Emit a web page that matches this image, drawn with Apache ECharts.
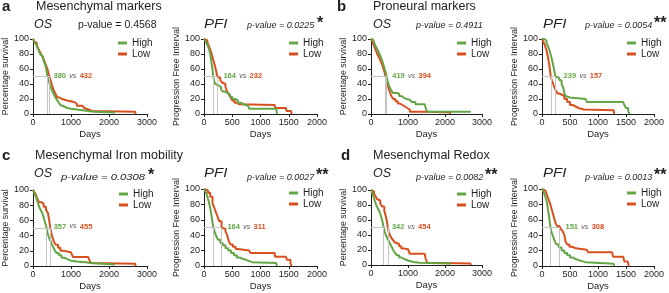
<!DOCTYPE html>
<html>
<head>
<meta charset="utf-8">
<script src="https://cdn.jsdelivr.net/npm/echarts@6/dist/echarts.min.js"></script>
<style>
  html, body { margin: 0; background: #fff; }
  #chart { width: 669px; height: 293px; }
</style>
</head>
<body>
<div id="chart"></div>
<script>
// panel order: a-OS, a-PFI, b-OS, b-PFI, c-OS, c-PFI, d-OS, d-PFI
const groupLetters = ["a", "b", "c", "d"];
const groupTitles = ["Mesenchymal markers", "Proneural markers", "Mesenchymal Iron mobility", "Mesenchymal Redox"];
const endpoints = ["OS", "PFI", "OS", "PFI", "OS", "PFI", "OS", "PFI"];
const xMaxes = [3000, 2000, 3000, 2000, 3000, 2000, 3000, 2000];
const xSteps = [1000, 500, 1000, 500, 1000, 500, 1000, 500];
const yTicks = [0, 20, 40, 60, 80, 100];
const pValues = ["0.4568", "0.0225", "0.4911", "0.0054", "0.0308", "0.0027", "0.0082", "0.0013"];
const stars = ["", "*", "", "**", "*", "**", "**", "**"];
const medianHigh = [380, 164, 419, 239, 357, 164, 342, 151];
const medianLow = [432, 232, 394, 157, 455, 311, 454, 308];

// [days, percent] Kaplan-Meier steps
const highCurves = [
  [[0,100],[20,98],[40,96],[60,94],[90,92],[110,89],[140,86],[170,82],[200,79],[230,77],[260,74],[280,71],[300,69],[320,66],[340,62],[360,56],[380,50],[400,46],[420,43],[450,38],[480,34],[510,30],[540,27],[570,24],[600,21],[640,18],[680,15],[720,12],[760,10],[820,8],[900,7],[1000,6],[1150,5],[1300,4],[1450,3],[1600,2],[2160,2]],
  [[0,100],[30,97],[60,92],[90,86],[110,80],[130,70],[150,60],[164,50],[180,44],[200,40],[230,38],[260,36],[300,33],[330,30],[370,28],[420,26],[460,23],[500,20],[550,18],[600,15],[650,13],[700,11],[780,9],[800,7],[1280,7],[1290,0]],
  [[0,100],[30,99],[60,97],[90,94],[130,90],[170,86],[210,82],[250,78],[290,73],[330,67],[370,60],[400,55],[419,50],[450,44],[480,39],[510,35],[550,31],[600,28],[700,27],[760,24],[820,22],[880,20],[950,19],[1050,18],[1100,16],[1200,13],[1450,12],[1480,8],[1520,3],[2700,3]],
  [[0,100],[40,98],[80,95],[110,90],[140,83],[170,75],[200,65],[220,58],[239,50],[270,48],[310,45],[350,40],[380,35],[400,28],[420,24],[450,22],[500,20],[780,20],[800,16],[1450,16],[1470,12],[1500,8],[1540,4],[1560,0]],
  [[0,100],[30,97],[60,93],[100,88],[130,83],[160,78],[200,74],[240,70],[280,64],[320,57],[357,50],[380,44],[410,39],[440,35],[470,32],[500,28],[540,24],[580,20],[620,17],[680,14],[750,11],[820,9],[900,7],[1000,6],[1150,5],[1400,4],[1500,2],[2150,2]],
  [[0,100],[30,96],[60,90],[90,82],[120,72],[140,62],[164,50],[190,44],[220,38],[250,34],[290,30],[330,27],[380,23],[430,20],[480,17],[530,14],[580,11],[630,9],[700,7],[780,5],[850,4],[1280,4],[1290,0]],
  [[0,100],[30,97],[60,92],[100,86],[140,80],[180,76],[220,72],[260,67],[300,60],[342,50],[370,45],[400,40],[440,36],[480,32],[520,28],[560,24],[600,20],[650,16],[700,13],[760,10],[830,8],[900,6],[1000,4],[1150,3],[1300,2],[2150,2]],
  [[0,100],[30,96],[60,90],[90,82],[110,72],[130,62],[151,50],[170,44],[200,38],[230,32],[260,28],[300,24],[350,20],[400,17],[450,14],[500,11],[550,9],[600,7],[680,5],[780,3],[1280,3],[1290,0]]
];
const lowCurves = [
  [[0,100],[30,97],[60,95],[100,92],[130,88],[170,84],[210,80],[250,76],[290,72],[320,68],[350,64],[380,60],[410,54],[432,50],[460,45],[490,40],[520,35],[560,30],[600,26],[640,22],[700,20],[760,18],[900,17],[1000,16],[1080,14],[1150,11],[1300,10],[1350,8],[1400,6],[1460,4],[1550,3],[2690,3],[2700,0]],
  [[0,100],[30,98],[60,95],[90,90],[120,84],[150,76],[180,68],[200,62],[220,56],[232,50],[260,48],[290,45],[320,42],[350,40],[380,36],[410,30],[440,26],[470,22],[500,18],[540,15],[580,13],[620,12],[1250,12],[1260,8],[1450,8],[1460,4],[1540,4],[1550,0]],
  [[0,100],[40,96],[80,91],[120,86],[160,81],[200,77],[240,73],[280,68],[320,63],[360,57],[394,50],[420,45],[450,39],[480,33],[520,28],[560,23],[600,20],[660,17],[720,14],[780,12],[850,10],[920,8],[980,6],[1050,3],[1500,3],[1550,2],[2140,2],[2150,0]],
  [[0,100],[20,97],[50,92],[80,85],[100,78],[120,70],[140,60],[157,50],[180,44],[210,38],[240,32],[270,28],[300,26],[350,24],[400,20],[450,16],[500,12],[550,10],[600,8],[650,6],[750,5],[1280,5],[1290,0]],
  [[0,100],[40,97],[80,93],[120,88],[160,84],[220,82],[280,78],[340,74],[390,70],[420,62],[440,55],[455,50],[480,44],[510,38],[550,32],[600,28],[660,24],[720,20],[800,18],[1000,17],[1050,12],[1450,12],[1480,8],[1520,4],[1550,3],[2690,3],[2700,0]],
  [[0,100],[30,98],[70,95],[110,90],[150,82],[180,76],[210,70],[240,64],[270,58],[311,50],[340,48],[380,45],[410,40],[440,32],[470,28],[510,25],[560,22],[600,20],[800,20],[820,17],[1250,17],[1260,12],[1450,12],[1470,8],[1530,4],[1550,0]],
  [[0,100],[40,98],[80,95],[120,92],[160,88],[200,86],[250,82],[300,78],[360,72],[400,65],[430,58],[454,50],[480,44],[510,40],[550,36],[600,33],[650,30],[700,28],[760,25],[820,22],[900,21],[1000,20],[1050,15],[1450,15],[1480,8],[1520,3],[1560,2],[2690,2],[2700,0]],
  [[0,100],[30,98],[60,96],[90,92],[120,86],[150,80],[180,72],[210,64],[240,56],[270,52],[308,50],[340,48],[370,45],[400,40],[420,32],[450,28],[490,25],[540,23],[600,21],[800,21],[820,18],[1250,18],[1270,12],[1450,12],[1470,6],[1530,4],[1550,0]]
];
// where the "median vs median" note starts (days, percent)
const noteAt = [[540,51],[343,51],[575,51],[385,51],[543,52],[414,51],[566,51],[420,51]];

// ---- layout ----
const GREEN = "#64a646";
const RED = "#d8501e";
const INK = "#1e1e1e";
const FONT = "Arial, 'Liberation Sans', Helvetica, sans-serif";

const grids = [
  { left: 33, top: 39, width: 114, height: 75 },
  { left: 204, top: 39, width: 113, height: 75 },
  { left: 371, top: 39, width: 111, height: 75 },
  { left: 542, top: 39, width: 112, height: 75 },
  { left: 33, top: 190, width: 114, height: 76 },
  { left: 204, top: 189, width: 113, height: 77 },
  { left: 371, top: 190, width: 111, height: 75 },
  { left: 542, top: 189, width: 112, height: 77 }
];
const groupX = [[2, 36], [337, 373], [2, 35], [341, 373]];
const groupY = [7, 7, 156, 156];
const subX = [34, 204, 373, 543, 34, 204, 373, 543];
const pX = [78, 247, 416, 585, 61, 247, 416, 585];
const starX = [0, 317, 0, 654, 148, 316, 485, 654];
const legendX = [118, 289, 457, 627, 119, 289, 457, 627];

const chart = echarts.init(document.getElementById("chart"), null, { renderer: "canvas" });

const option = {
  animation: false,
  backgroundColor: "#fff",
  textStyle: { fontFamily: FONT, color: INK },
  grid: [],
  xAxis: [],
  yAxis: [],
  legend: [],
  series: [],
  graphic: []
};

grids.forEach((g, i) => {
  const row = i < 4 ? 0 : 1;
  option.grid.push({ ...g, outerBoundsMode: "none", containLabel: false });
  option.xAxis.push({
    type: "value", gridIndex: i, min: 0, max: xMaxes[i], interval: xSteps[i],
    name: "Days", nameLocation: "middle", nameGap: 15,
    nameTextStyle: { fontSize: 9.5, color: INK, fontFamily: FONT },
    axisLine: { show: true, onZero: false, lineStyle: { color: INK, width: 1 } },
    axisTick: { show: true, length: 3, lineStyle: { color: INK } },
    axisLabel: { fontSize: 9, color: INK, margin: 4, fontFamily: FONT, hideOverlap: false, formatter: (v) => String(v) },
    splitLine: { show: false }
  });
  option.yAxis.push({
    type: "value", gridIndex: i, min: yTicks[0], max: yTicks[yTicks.length - 1], interval: yTicks[1] - yTicks[0],
    name: endpoints[i] === "OS" ? "Percentage survival" : "Progression Free Interval",
    nameLocation: "middle", nameGap: 22,
    nameTextStyle: { fontSize: 8.8, color: INK, fontFamily: FONT },
    axisLine: { show: true, onZero: false, lineStyle: { color: INK, width: 1 } },
    axisTick: { show: true, length: 3, lineStyle: { color: INK } },
    axisLabel: { fontSize: 9, color: INK, margin: 4, fontFamily: FONT, formatter: (v) => String(v) },
    splitLine: { show: false }
  });

  // median guide lines and note
  const mh = medianHigh[i], ml = medianLow[i];
  option.series.push({
    type: "line", name: "median" + i, xAxisIndex: i, yAxisIndex: i, data: [], silent: true, z: 1,
    markLine: {
      silent: true, symbol: "none", animation: false,
      label: { show: false },
      lineStyle: { color: "#c4c4c4", width: 1, type: "solid" },
      data: [
        [{ coord: [0, 50] }, { coord: [Math.max(mh, ml), 50] }],
        [{ coord: [mh, 50] }, { coord: [mh, 0] }],
        [{ coord: [ml, 50] }, { coord: [ml, 0] }]
      ]
    },
    markPoint: {
      silent: true, symbol: "circle", symbolSize: 0,
      label: {
        show: true, position: "right", distance: 0,
        formatter: "{g|" + mh + "} {v|vs} {r|" + ml + "}",
        rich: {
          g: { color: GREEN, fontWeight: "bold", fontSize: 7.5, fontFamily: FONT },
          v: { color: "#555", fontStyle: "italic", fontSize: 7, fontFamily: FONT },
          r: { color: RED, fontWeight: "bold", fontSize: 7.5, fontFamily: FONT }
        }
      },
      data: [{ coord: noteAt[i] }]
    }
  });

  option.series.push({
    type: "line", name: "Low", xAxisIndex: i, yAxisIndex: i, step: "end",
    data: lowCurves[i], showSymbol: false, symbol: "none", color: RED, z: 3,
    lineStyle: { color: RED, width: 2 }
  });
  option.series.push({
    type: "line", name: "High", xAxisIndex: i, yAxisIndex: i, step: "end",
    data: highCurves[i], showSymbol: false, symbol: "none", color: GREEN, z: 4,
    lineStyle: { color: GREEN, width: 2 }
  });

  option.legend.push({
    left: legendX[i], top: g.top - 1, orient: "vertical", selectedMode: false,
    itemWidth: 9, itemHeight: 3, itemGap: 1, padding: 0,
    textStyle: { fontSize: 10, lineHeight: 10, color: INK, fontFamily: FONT },
    data: [{ name: "High", icon: "rect" }, { name: "Low", icon: "rect" }]
  });

  // OS / PFI subtitle, p-value, stars
  const subY = row === 0 ? 24.5 : 174;
  const pY = row === 0 ? 25 : 177;
  option.graphic.push({
    type: "text", x: subX[i], y: subY, silent: true, scaleX: endpoints[i] === "PFI" ? 1.2 : 1,
    style: { text: endpoints[i], fontSize: 12.5, fontStyle: "italic", fontFamily: FONT, fill: INK, textVerticalAlign: "middle" }
  });
  const upright = i === 0;
  option.graphic.push({
    type: "text", x: pX[i], y: pY, silent: true, scaleX: i === 4 ? 1.25 : 1,
    style: {
      text: "p-value = " + pValues[i], fontSize: upright ? 10.5 : 9,
      fontStyle: upright ? "normal" : "italic", fontFamily: FONT, fill: INK, textVerticalAlign: "middle"
    }
  });
  if (stars[i]) {
    option.graphic.push({
      type: "text", x: starX[i], y: pY - 9, silent: true,
      style: { text: stars[i], fontSize: 16, fontWeight: "bold", fontFamily: FONT, fill: INK, textVerticalAlign: "top" }
    });
  }
});

groupTitles.forEach((t, k) => {
  option.graphic.push({
    type: "text", x: groupX[k][0], y: groupY[k], silent: true,
    style: { text: groupLetters[k], fontSize: 15, fontWeight: "bold", fontFamily: FONT, fill: INK, textVerticalAlign: "middle" }
  });
  option.graphic.push({
    type: "text", x: groupX[k][1], y: groupY[k], silent: true,
    style: { text: t, fontSize: 12.5, fontFamily: FONT, fill: INK, textVerticalAlign: "middle" }
  });
});

chart.setOption(option);
</script>
</body>
</html>
